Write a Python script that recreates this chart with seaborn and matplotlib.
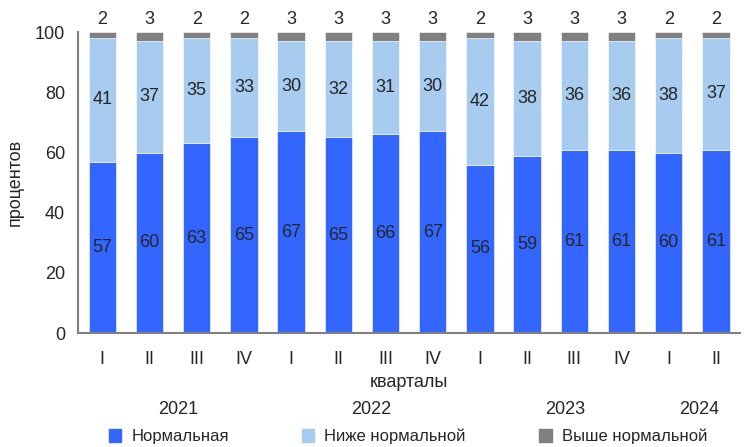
import numpy as np
import pandas as pd
import matplotlib
matplotlib.use("Agg")
import matplotlib.pyplot as plt
import seaborn as sns
from matplotlib.patches import Patch

quarters = ["I", "II", "III", "IV", "I", "II", "III", "IV", "I", "II", "III", "IV", "I", "II"]
years = ["2021", "2022", "2023", "2024"]
year_pos = [1.6, 5.7, 9.8, 12.65]
normal = [57, 60, 63, 65, 67, 65, 66, 67, 56, 59, 61, 61, 60, 61]
below = [41, 37, 35, 33, 30, 32, 31, 30, 42, 38, 36, 36, 38, 37]
above = [2, 3, 2, 2, 3, 3, 3, 3, 2, 3, 3, 3, 2, 2]

c_norm = "#3366FF"
c_below = "#A8CBF0"
c_above = "#808080"

sns.set_style("white")
plt.rcParams["font.family"] = ["Liberation Sans", "DejaVu Sans"]

df = pd.DataFrame({"idx": [str(i) for i in range(len(quarters))],
                   "normal": normal, "below": below, "above": above})
df["b2"] = df["normal"] + df["below"]

fig = plt.figure(figsize=(7.47, 4.47), dpi=100)
ax = fig.add_axes([0.104, 0.255, 0.886, 0.673])

sns.barplot(data=df, x="idx", y="normal", color=c_norm, width=0.58,
            saturation=1, ax=ax, edgecolor="white", linewidth=0.4)
sns.barplot(data=df, x="idx", y="below", bottom=df["normal"], color=c_below,
            width=0.58, saturation=1, ax=ax, edgecolor="white", linewidth=0.4)
sns.barplot(data=df, x="idx", y="above", bottom=df["b2"], color=c_above,
            width=0.58, saturation=1, ax=ax, edgecolor="white", linewidth=0.4)

for i in range(len(quarters)):
    ax.text(i, normal[i] / 2, str(normal[i]), ha="center", va="center", fontsize=13)
    ax.text(i, normal[i] + below[i] / 2, str(below[i]), ha="center", va="center", fontsize=13)
    ax.text(i, 101.5, str(above[i]), ha="center", va="bottom", fontsize=13, clip_on=False)

ax.set_ylim(0, 100)
ax.set_xlim(-0.52, 13.33)
ax.set_yticks(range(0, 101, 20))
ax.set_xticks(range(len(quarters)))
ax.set_xticklabels(quarters)
ax.set_xticks(np.arange(-0.5, 13.6, 0.5), minor=True)
ax.tick_params(axis="x", which="major", length=0, pad=13, labelsize=13)
ax.tick_params(axis="x", which="minor", length=4, color="#808080", direction="out")
ax.tick_params(axis="y", length=5, color="#808080", labelsize=13, direction="out", pad=4)
ax.set_xlabel("")
ax.set_ylabel("процентов", fontsize=13, labelpad=8)

for s in ["top", "right"]:
    ax.spines[s].set_visible(False)
for s in ["left", "bottom"]:
    ax.spines[s].set_color("#808080")
    ax.spines[s].set_linewidth(1.5)

ax.text(0.5, -0.163, "кварталы", transform=ax.transAxes, ha="center", va="center", fontsize=13)
for y, p in zip(years, year_pos):
    ax.text(p, -25.5, y, ha="center", va="center", fontsize=13, clip_on=False)

handles = [Patch(color=c_norm), Patch(color=c_below), Patch(color=c_above)]
fig.legend(handles, ["Нормальная", "Ниже нормальной", "Выше нормальной"],
           loc="center", bbox_to_anchor=(0.546, 0.024), ncol=3, frameon=False,
           fontsize=12, handlelength=0.75, handleheight=0.8, columnspacing=4.4,
           handletextpad=0.6)

fig.savefig("out.png", dpi=100)
